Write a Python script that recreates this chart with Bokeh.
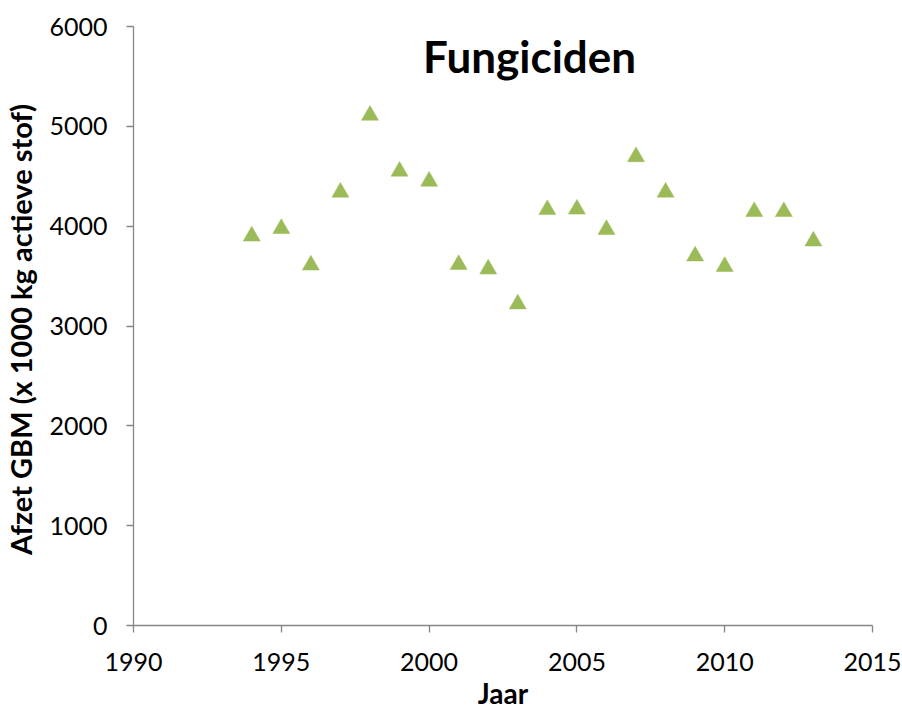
from bokeh.plotting import figure
from bokeh.models import Range1d, Label, FixedTicker
from bokeh.embed import file_html
from bokeh.resources import INLINE

years = [1994, 1995, 1996, 1997, 1998, 1999, 2000, 2001, 2002, 2003,
         2004, 2005, 2006, 2007, 2008, 2009, 2010, 2011, 2012, 2013]
afzet = [3900, 3975, 3610, 4340, 5110, 4550, 4450, 3615, 3570, 3220,
         4165, 4170, 3965, 4695, 4340, 3700, 3595, 4145, 4145, 3850]
x_ticks = [1990, 1995, 2000, 2005, 2010, 2015]
y_ticks = [0, 1000, 2000, 3000, 4000, 5000, 6000]
title_text = "Fungiciden"
x_label = "Jaar"
y_label = "Afzet GBM (x 1000 kg  actieve stof)"

FONT = "Lato"
AXIS_COLOR = "#868686"

p = figure(width=902, height=713, output_backend="svg", toolbar_location=None,
           x_range=Range1d(1990, 2015), y_range=Range1d(0, 6000),
           min_border_left=129, min_border_right=30, min_border_top=26, min_border_bottom=88)
p.outline_line_color = None
p.xgrid.visible = False
p.ygrid.visible = False
p.background_fill_color = "white"
p.border_fill_color = "white"

p.scatter(years, afzet, marker="triangle", size=17, fill_color="#9BBB59",
          line_color="#9BBB59", line_width=0.5)

for ax, ticks in ((p.xaxis[0], x_ticks), (p.yaxis[0], y_ticks)):
    ax.ticker = FixedTicker(ticks=ticks)
    ax.axis_line_color = AXIS_COLOR
    ax.axis_line_width = 1.3
    ax.major_tick_line_color = AXIS_COLOR
    ax.major_tick_line_width = 1.3
    ax.major_tick_in = 0
    ax.major_tick_out = 7
    ax.minor_tick_line_color = None
    ax.major_label_text_font = FONT
    ax.major_label_text_font_size = "25px"
    ax.major_label_text_color = "black"
    ax.axis_label_text_font = FONT
    ax.axis_label_text_font_style = "bold"
    ax.axis_label_text_color = "black"

p.xaxis[0].axis_label = x_label
p.yaxis[0].axis_label = y_label
p.xaxis[0].axis_label_text_font_size = "28px"
p.yaxis[0].axis_label_text_font_size = "29px"
p.xaxis[0].major_label_standoff = 20
p.yaxis[0].major_label_standoff = 19
p.xaxis[0].axis_label_standoff = 2
p.yaxis[0].axis_label_standoff = 8

p.add_layout(Label(x=2003.4, y=5700, text=title_text, text_align="center",
                   text_baseline="middle", text_font=FONT, text_font_style="bold",
                   text_font_size="44px", text_color="black"))

open("out.html", "w").write(file_html(p, INLINE))
